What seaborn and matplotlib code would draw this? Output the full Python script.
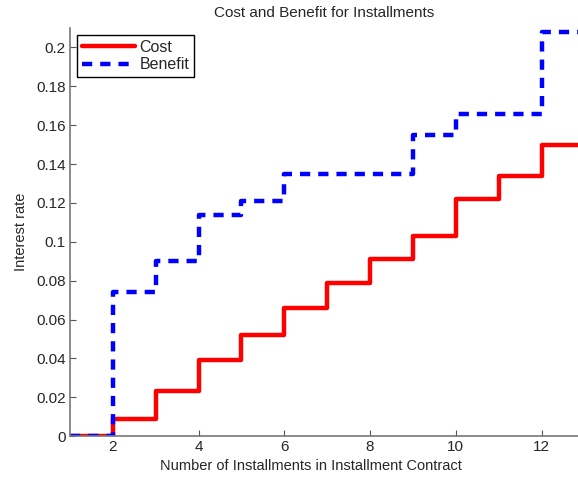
import pandas as pd
import numpy as np
import matplotlib
matplotlib.use('Agg')
import matplotlib.pyplot as plt
import seaborn as sns

#data
installments=[1,2,3,4,5,6,7,8,9,10,11,12,13]
cost=[0,0.009,0.023,0.039,0.052,0.066,0.079,0.091,0.103,0.122,0.134,0.150,0.150]
benefit=[0,0.074,0.090,0.114,0.121,0.135,0.135,0.135,0.155,0.166,0.166,0.208,0.208]

sns.set_style('ticks')
plt.rcParams['font.family']=['Liberation Sans','DejaVu Sans']
plt.rcParams['xtick.direction']='in'
plt.rcParams['ytick.direction']='in'

df=pd.DataFrame({'n':installments,'Cost':cost,'Benefit':benefit})

fig=plt.figure(figsize=(5.78,4.83),dpi=100)
ax=fig.add_axes([0.121,0.097,0.879,0.845])
sns.lineplot(data=df,x='n',y='Cost',ax=ax,color='red',lw=3.2,drawstyle='steps-post',label='Cost')
sns.lineplot(data=df,x='n',y='Benefit',ax=ax,color='blue',lw=3.2,ls=(0,(2.3,1.8)),drawstyle='steps-post',label='Benefit')

ax.set_xlim(1,12.85)
ax.set_ylim(0,0.21)
ax.set_xticks([2,4,6,8,10,12])
ax.set_yticks(np.arange(0,0.21,0.02))
ax.set_yticklabels(['0','0.02','0.04','0.06','0.08','0.1','0.12','0.14','0.16','0.18','0.2'])
ax.tick_params(labelsize=11,length=4,color='#555555',pad=3)
for s in ['top','right']:
    ax.spines[s].set_visible(False)
for s in ['left','bottom']:
    ax.spines[s].set_color('#777777')
    ax.spines[s].set_linewidth(1.2)
ax.set_xlabel('Number of Installments in Installment Contract',fontsize=10.5,labelpad=1)
ax.xaxis.set_label_coords(0.475,-0.055)
ax.set_ylabel('Interest rate',fontsize=10.5,labelpad=6)
ax.set_title('Cost and Benefit for Installments',fontsize=11,pad=8)
leg=ax.legend(loc='upper left',fontsize=11.5,fancybox=False,edgecolor='black',framealpha=1,borderaxespad=0.45,handlelength=3.3,borderpad=0.3,labelspacing=0.15,handletextpad=0.3)
leg.get_frame().set_linewidth(1)

plt.savefig('out.png',dpi=100)
